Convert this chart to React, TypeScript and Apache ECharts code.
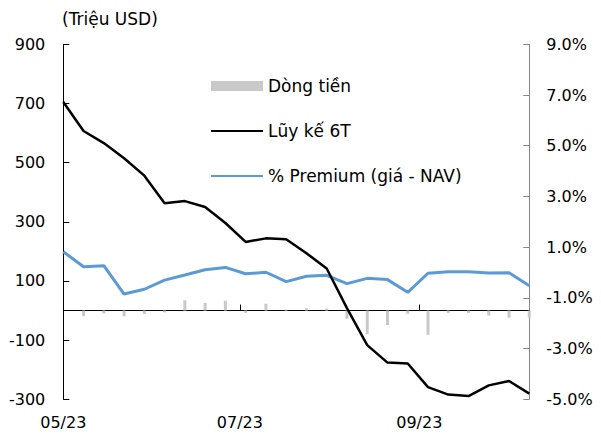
import React, { useEffect, useRef } from "react";
import * as echarts from "echarts";

const dates = [
  "2023-05-01", "2023-05-08", "2023-05-15", "2023-05-22", "2023-05-29", "2023-06-05",
  "2023-06-12", "2023-06-19", "2023-06-26", "2023-07-03", "2023-07-10", "2023-07-17",
  "2023-07-24", "2023-07-31", "2023-08-07", "2023-08-14", "2023-08-21", "2023-08-28",
  "2023-09-04", "2023-09-11", "2023-09-18", "2023-09-25", "2023-10-02", "2023-10-09",
];

const flows = [0, -19, -10, -19, -12, -6, 35, 26, 33, -8, 23, 3, 8, 7, -28, -79, -49, -11, -82, -8, -8, -17, -24, -24];

const cumulative6T = [705, 607, 566, 515, 456, 363, 370, 350, 296, 232, 244, 241, 194, 142, 8, -117, -176, -179, -259, -284, -289, -253, -238, -281];

const premiumPct = [0.82, 0.23, 0.27, -0.85, -0.66, -0.30, -0.10, 0.11, 0.20, -0.05, 0.01, -0.36, -0.15, -0.11, -0.44, -0.23, -0.28, -0.78, -0.03, 0.03, 0.03, -0.02, -0.01, -0.52];

const leftTicks = [-300, -100, 100, 300, 500, 700, 900];
const rightTicks = [-5, -3, -1, 1, 3, 5, 7, 9];
const monthLabels = ["2023-05-01", "2023-07-01", "2023-09-01"];
const monthTicks = ["2023-07-01", "2023-09-01"];

const seriesNames = ["Dòng tiền", "Lũy kế 6T", "% Premium (giá - NAV)"];
const unitLabel = "(Triệu USD)";

const FONT = "DejaVu Sans";
const ts = (s: string) => Date.parse(s + "T00:00:00Z");

export default function App() {
  const ref = useRef<HTMLDivElement>(null);
  useEffect(() => {
    if (!ref.current) return;
    const chart = echarts.init(ref.current, undefined, { renderer: "svg" });
    const xs = dates.map(ts);
    const fmtMonth = (v: number) => {
      const d = new Date(v);
      const m = d.getUTCMonth() + 1;
      const y = d.getUTCFullYear() % 100;
      return (m < 10 ? "0" : "") + m + "/" + (y < 10 ? "0" : "") + y;
    };
    chart.setOption({
      animation: false,
      backgroundColor: "#ffffff",
      textStyle: { fontFamily: FONT },
      graphic: [
        {
          type: "text",
          left: 62,
          top: 10,
          style: { text: unitLabel, font: `17px "${FONT}"`, fill: "#000" },
        },
      ],
      legend: {
        orient: "vertical",
        left: 205,
        top: 71,
        itemWidth: 52,
        itemHeight: 10,
        itemGap: 25,
        textStyle: { fontSize: 17, color: "#000", fontFamily: FONT, lineHeight: 20 },
        data: [
          { name: seriesNames[0], icon: "rect" },
          { name: seriesNames[1], itemStyle: { opacity: 0 } },
          { name: seriesNames[2], itemStyle: { opacity: 0 } },
        ],
      },
      grid: { left: 63.3, right: 71.7, top: 44.3, bottom: 36.7, containLabel: false },
      xAxis: [
        {
          type: "value",
          min: xs[0],
          max: xs[xs.length - 1],
          position: "bottom",
          splitLine: { show: false },
          axisLine: { show: true, onZero: true, onZeroAxisIndex: 0, lineStyle: { color: "#000", width: 1 } },
          axisTick: {
            show: true,
            inside: true,
            length: 6,
            customValues: monthTicks.map(ts),
            lineStyle: { color: "#000" },
          },
          axisLabel: { show: false },
        },
        {
          type: "value",
          min: xs[0],
          max: xs[xs.length - 1],
          position: "bottom",
          splitLine: { show: false },
          axisLine: { show: false, onZero: false },
          axisTick: { show: false },
          axisLabel: {
            show: true,
            customValues: monthLabels.map(ts),
            formatter: (v: number) => fmtMonth(v),
            fontSize: 16,
            color: "#000",
            fontFamily: FONT,
            margin: 15,
          },
        },
      ],
      yAxis: [
        {
          type: "value",
          min: -300,
          max: 900,
          position: "left",
          splitLine: { show: false },
          axisLine: { show: true, onZero: false, lineStyle: { color: "#000" } },
          axisTick: { show: true, inside: true, length: 6, customValues: leftTicks, lineStyle: { color: "#000" } },
          axisLabel: {
            customValues: leftTicks,
            fontSize: 16,
            color: "#000",
            fontFamily: FONT,
            margin: 18,
          },
        },
        {
          type: "value",
          min: -5,
          max: 9,
          position: "right",
          splitLine: { show: false },
          axisLine: { show: true, onZero: false, lineStyle: { color: "#868686" } },
          axisTick: { show: true, inside: true, length: 6, customValues: rightTicks, lineStyle: { color: "#868686" } },
          axisLabel: {
            customValues: rightTicks,
            formatter: (v: number) => v.toFixed(1) + "%",
            fontSize: 16,
            color: "#000",
            fontFamily: FONT,
            margin: 17,
          },
        },
      ],
      series: [
        {
          name: seriesNames[0],
          type: "bar",
          xAxisIndex: 0,
          yAxisIndex: 0,
          barWidth: 3,
          itemStyle: { color: "#c9c9c9" },
          data: xs.map((x, i) => [x, flows[i]]),
          z: 1,
        },
        {
          name: seriesNames[1],
          type: "line",
          xAxisIndex: 0,
          yAxisIndex: 0,
          symbol: "none",
          lineStyle: { color: "#000", width: 2.5 },
          itemStyle: { color: "#000" },
          data: xs.map((x, i) => [x, cumulative6T[i]]),
          z: 3,
        },
        {
          name: seriesNames[2],
          type: "line",
          xAxisIndex: 0,
          yAxisIndex: 1,
          symbol: "none",
          lineStyle: { color: "#5b9bd5", width: 3 },
          itemStyle: { color: "#5b9bd5" },
          data: xs.map((x, i) => [x, premiumPct[i]]),
          z: 2,
        },
      ],
    });
    return () => chart.dispose();
  }, []);
  return <div ref={ref} style={{ width: 601, height: 436, position: "absolute", left: 0, top: 0 }} />;
}
